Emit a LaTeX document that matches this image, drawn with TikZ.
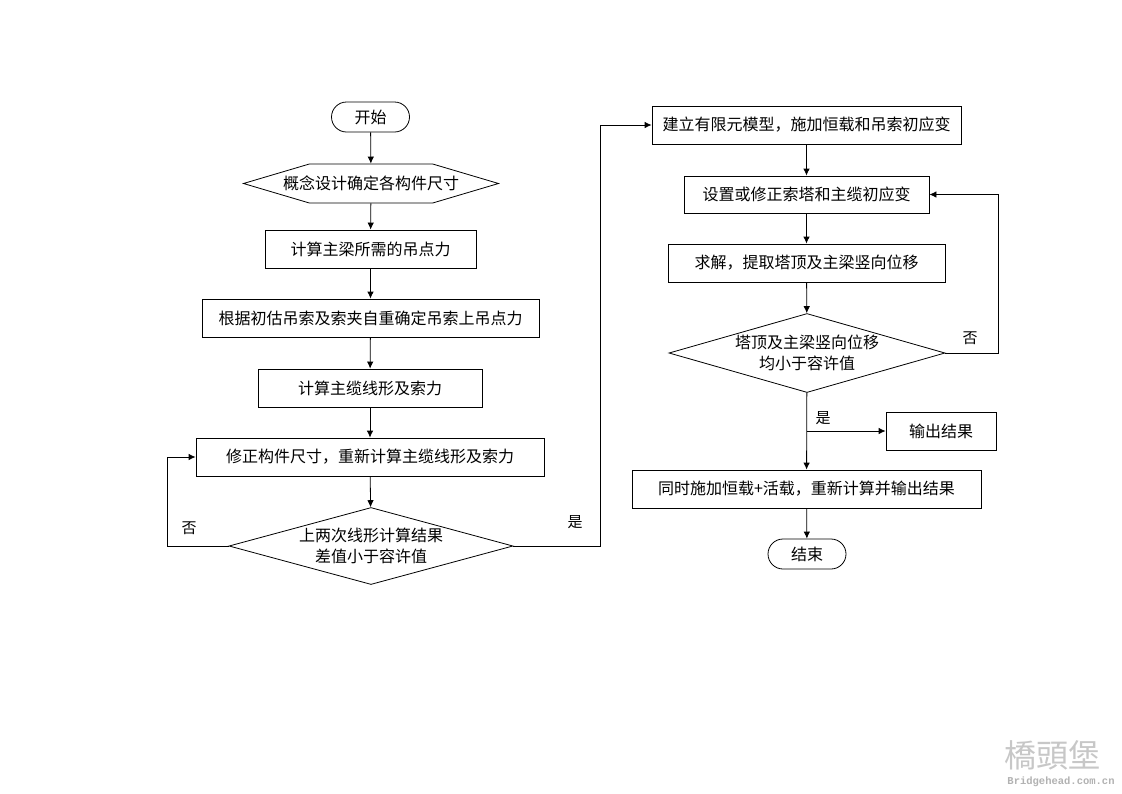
\documentclass[tikz,border=0pt]{standalone}
\usepackage{fontspec}
\setmainfont{Noto Sans CJK SC}
\newfontfamily\markfont{Noto Sans CJK TC}
\newfontfamily\latinmark{Liberation Mono}
\usetikzlibrary{arrows.meta,positioning,shapes.geometric,shapes.misc,shapes.symbols}
\tikzset{
  base/.style={draw,line width=0.8pt,inner sep=0pt,font=\fontsize{16}{20.5}\selectfont,align=center},
  stepbox/.style={base,rectangle,minimum height=38pt},
  terminal/.style={base,rounded rectangle,minimum height=30pt,minimum width=78pt},
  decide/.style={base,diamond,shape aspect=3.6,minimum width=284pt,minimum height=77pt},
  prep/.style={base,signal,signal to=west and east,signal pointer angle=33,minimum width=255pt,minimum height=39pt},
  flow/.style={line width=0.8pt,-{Latex[length=7pt,width=6.5pt]}},
  plainlabel/.style={font=\fontsize{15}{18}\selectfont}
}
\begin{document}
\begin{tikzpicture}[x=1pt,y=-1pt]
\useasboundingbox[fill=white] (0,0) rectangle (1122,793);
\node[terminal] (start) at (370.5,117) {开始};
\node[prep] (concept) at (371,183.5) {\makebox[123pt][c]{概念设计确定各构件尺寸}};
\node[stepbox,minimum width=211pt] (hanger) at (370.5,249) {计算主梁所需的吊点力};
\node[stepbox,minimum width=337pt] (weight) at (370.5,318) {根据初估吊索及索夹自重确定吊索上吊点力};
\node[stepbox,minimum width=224pt] (cable) at (370,388) {计算主缆线形及索力};
\node[stepbox,minimum width=348pt] (revise) at (370,457) {修正构件尺寸，重新计算主缆线形及索力};
\node[decide] (check) at (371,546) {上两次线形计算结果\\差值小于容许值};
\node[stepbox,minimum width=309pt] (model) at (806.5,125) {建立有限元模型，施加恒载和吊索初应变};
\node[stepbox,minimum width=245pt,minimum height=37pt] (strain) at (806.5,194.5) {设置或修正索塔和主缆初应变};
\node[stepbox,minimum width=277pt] (solve) at (806.5,263) {求解，提取塔顶及主梁竖向位移};
\node[decide,shape aspect=3.45,minimum width=276pt,minimum height=79pt] (limit) at (807,353) {塔顶及主梁竖向位移\\均小于容许值};
\node[stepbox,minimum width=110pt] (output) at (941,431) {输出结果};
\node[stepbox,minimum width=349pt] (live) at (806.5,489) {同时施加恒载+活载，重新计算并输出结果};
\node[terminal] (end) at (807,554) {结束};
\node[plainlabel] (no1) at (189,528) {否};
\node[plainlabel] (yes1) at (575,522) {是};
\node[plainlabel] (no2) at (970,338) {否};
\node[plainlabel] (yes2) at (823,418) {是};
\node[font=\fontsize{32}{32}\selectfont\markfont,text=black!22] (logo) at (1052,755) {橋頭堡};
\node[font=\fontsize{10.5}{11}\selectfont\latinmark\bfseries,text=black!30] (site) at (1061,782) {Bridgehead.com.cn};
\coordinate (leftturn) at (167,546);
\coordinate (midturn) at (600,546);
\coordinate (rightturn) at (998,353);
\coordinate (branch) at (807,431);
\draw[flow] (start) -- (concept);
\draw[flow] (concept) -- (hanger);
\draw[flow] (hanger) -- (weight);
\draw[flow] (weight) -- (cable);
\draw[flow] (cable) -- (revise);
\draw[flow] (revise) -- (check);
\draw[flow] (check.west) -- (leftturn) |- (revise.west);
\draw[flow] (check.east) -- (midturn) |- (model.west);
\draw[flow] (model) -- (strain);
\draw[flow] (strain) -- (solve);
\draw[flow] (solve) -- (limit);
\draw[flow] (limit.east) -- (rightturn) |- (strain.east);
\draw[flow] (limit) -- (live);
\draw[flow] (branch) -- (output);
\draw[flow] (live) -- (end);
\end{tikzpicture}
\end{document}
